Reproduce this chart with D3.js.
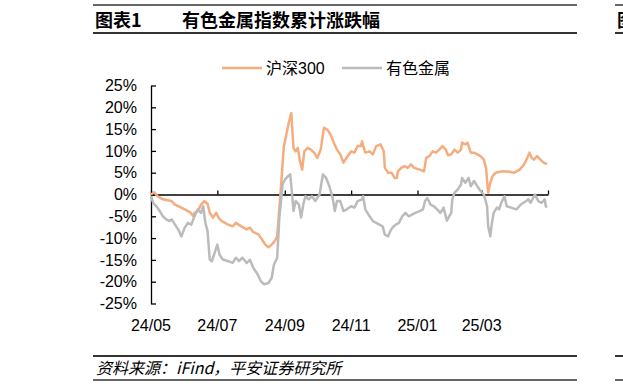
<!DOCTYPE html>
<html>
<head>
<meta charset="utf-8">
<script src="https://cdn.jsdelivr.net/npm/d3@7"></script>
<style>
  body { margin: 0; background: #fff; }
</style>
</head>
<body>
<div class="chart"></div>
<script>
// Chart data (cumulative change in %)
const seriesNames = ["沪深300", "有色金属"];

const hs300Dates = ["24-05-01","24-05-04","24-05-07","24-05-12","24-05-16","24-05-20","24-05-23","24-05-27","24-06-01","24-06-06",
  "24-06-09","24-06-10","24-06-13","24-06-16","24-06-19","24-06-22","24-06-24","24-06-27","24-06-30","24-07-02",
  "24-07-05","24-07-11","24-07-15","24-07-18","24-07-23","24-07-28","24-07-31","24-08-03","24-08-08","24-08-11",
  "24-08-14","24-08-17","24-08-20","24-08-23","24-08-25","24-08-28","24-08-31","24-09-03","24-09-05","24-09-07",
  "24-09-09","24-09-11","24-09-13","24-09-15","24-09-17","24-09-19","24-09-22","24-09-25","24-09-28","24-10-01",
  "24-10-04","24-10-07","24-10-10","24-10-13","24-10-16","24-10-19","24-10-22","24-10-25","24-10-28","24-11-01",
  "24-11-04","24-11-07","24-11-10","24-11-11","24-11-14","24-11-18","24-11-21","24-11-24","24-11-28","24-12-01",
  "24-12-02","24-12-05","24-12-08","24-12-11","24-12-13","24-12-14","24-12-17","24-12-20","24-12-23","24-12-26",
  "24-12-29","25-01-03","25-01-07","25-01-09","25-01-12","25-01-15","25-01-18","25-01-21","25-01-24","25-01-27",
  "25-01-29","25-02-01","25-02-04","25-02-07","25-02-10","25-02-11","25-02-14","25-02-16","25-02-19","25-02-22",
  "25-02-25","25-02-28","25-03-03","25-03-05","25-03-07","25-03-09","25-03-11","25-03-14","25-03-19","25-03-25",
  "25-03-31","25-04-05","25-04-09","25-04-12","25-04-14","25-04-16","25-04-18","25-04-21","25-04-24","25-04-27",
  "25-04-30"];
const hs300Values = [0,0.5,-0.4,-1.1,-1.3,-1.5,-2.3,-2.8,-3.4,-4.1,
  -5.0,-4.2,-3.8,-2.3,-1.5,-2.1,-4.2,-5.3,-4.2,-5.3,
  -6.1,-6.9,-7.3,-6.5,-7.3,-8.0,-7.6,-8.6,-9.2,-10.3,
  -11.5,-12.1,-11.5,-10.6,-9.6,0,10.7,14.5,16.8,18.7,
  10.7,9.9,10.7,7.6,5.7,9.9,10.7,10.3,9.6,8.4,
  10.3,15.3,14.9,13.8,11.9,10.3,9.2,7.3,8.5,9.9,
  9.6,11.1,11.1,12.2,9.6,9.9,9.2,11.1,11.5,9.9,
  6.1,5.0,5.0,3.8,3.8,5.3,6.1,6.5,6.1,6.9,
  6.1,5.7,5.3,8.4,8.8,9.9,9.6,10.3,11.1,10.3,
  9.0,9.2,10.3,9.6,10.3,11.9,11.5,11.9,9.6,9.6,
  9.2,8.8,8.0,6.1,0.4,2.7,4.2,5.0,5.3,5.3,
  5.0,5.7,6.9,8.4,9.6,8.4,8.0,8.8,8.0,7.3,
  7.0];

const metalDates = ["24-05-01","24-05-03","24-05-06","24-05-09","24-05-12","24-05-15","24-05-18","24-05-20","24-05-23","24-05-26",
  "24-05-29","24-06-01","24-06-04","24-06-07","24-06-10","24-06-13","24-06-16","24-06-18","24-06-20","24-06-22",
  "24-06-24","24-06-26","24-06-28","24-07-01","24-07-03","24-07-06","24-07-11","24-07-15","24-07-18","24-07-21",
  "24-07-24","24-07-28","24-07-31","24-08-03","24-08-07","24-08-10","24-08-13","24-08-17","24-08-20","24-08-22",
  "24-08-25","24-08-27","24-08-30","24-09-01","24-09-04","24-09-06","24-09-08","24-09-09","24-09-11","24-09-14",
  "24-09-16","24-09-18","24-09-20","24-09-23","24-09-26","24-09-29","24-10-03","24-10-06","24-10-09","24-10-12",
  "24-10-15","24-10-17","24-10-19","24-10-22","24-10-25","24-10-28","24-11-01","24-11-04","24-11-07","24-11-11",
  "24-11-12","24-11-14","24-11-18","24-11-21","24-11-24","24-11-27","24-11-30","24-12-02","24-12-05","24-12-07",
  "24-12-09","24-12-12","24-12-15","24-12-18","24-12-21","24-12-24","24-12-27","24-12-30","25-01-03","25-01-06",
  "25-01-08","25-01-10","25-01-13","25-01-16","25-01-19","25-01-22","25-01-25","25-01-28","25-02-01","25-02-02",
  "25-02-04","25-02-07","25-02-10","25-02-11","25-02-14","25-02-17","25-02-19","25-02-22","25-02-25","25-02-28",
  "25-03-03","25-03-06","25-03-07","25-03-09","25-03-10","25-03-12","25-03-15","25-03-17","25-03-19","25-03-22",
  "25-03-24","25-03-28","25-04-02","25-04-06","25-04-11","25-04-13","25-04-15","25-04-19","25-04-22","25-04-25",
  "25-04-28","25-04-29","25-04-30"];
const metalValues = [-0.4,-1.9,-2.7,-3.8,-5.0,-5.7,-6.1,-5.7,-6.9,-8.0,
  -9.6,-7.6,-6.5,-6.9,-5.0,-3.4,-4.2,-2.7,-6.5,-8.4,
  -14.9,-15.3,-13.8,-11.5,-13.8,-14.9,-15.3,-15.7,-14.5,-15.3,
  -14.5,-15.7,-15.0,-16.8,-18.3,-19.9,-20.6,-20.3,-19.1,-16.1,
  -14.5,-5.3,2.3,3.4,4.2,4.6,-0.8,-3.8,-1.5,-2.3,
  -5.3,-2.3,-0.4,-1.1,-0.4,-1.5,0,4.6,3.8,1.9,
  -0.8,-3.8,-1.5,-1.5,-3.8,-3.4,-2.7,-3.0,-1.5,-1.1,
  -0.4,-3.4,-5.0,-6.1,-6.5,-6.9,-7.3,-9.2,-9.6,-8.4,
  -7.6,-6.9,-6.5,-5.0,-4.2,-5.0,-4.6,-4.2,-3.8,-3.4,
  -1.5,-0.8,-2.3,-2.7,-3.4,-4.2,-3.0,-6.0,-4.2,-1.1,
  0.4,1.1,2.3,3.8,2.7,3.8,1.9,3.1,1.9,0.8,
  0,-2.7,-7.3,-9.6,-7.3,-4.2,-3.0,-3.4,-1.9,-0.4,
  -2.7,-3.0,-3.4,-2.3,-1.5,-1.1,-1.9,0,-1.5,-1.9,
  -1.1,-2.7,-3.0];

const yTicks = [25, 20, 15, 10, 5, 0, -5, -10, -15, -20, -25];
const xTickDates = ["24-05-01","24-07-01","24-09-01","24-11-01","25-01-01","25-03-01","25-05-01"];
const xTickLabels = ["24/05","24/07","24/09","24/11","25/01","25/03",""];

const colors = ["#F5AC7E", "#BBBBBB"];
const latinFont = '"Liberation Sans", Arial, "Noto Sans CJK SC", sans-serif';
const cjkFont = '"Noto Sans CJK SC", sans-serif';

const width = 623, height = 389;

const svg = d3.select('.chart')
              .append('svg')
              .attr('width', width)
              .attr('height', height)
              .style('display', 'block');

const parseDate = d3.timeParse("%y-%m-%d");

const x = d3.scaleTime()
            .domain([parseDate("24-05-01"), parseDate("25-05-01")])
            .range([151, 548]);
const y = d3.scaleLinear()
            .domain([-25, 25])
            .range([303.5, 85.5]);

// Title and footer rules
function rule(yPos, w) {
  svg.append("line")
     .attr("x1", 93).attr("x2", 577)
     .attr("y1", yPos).attr("y2", yPos)
     .attr("stroke", "#333").attr("stroke-width", w);
  // neighbouring panel, cut off at the right edge
  svg.append("line")
     .attr("x1", 615).attr("x2", 623)
     .attr("y1", yPos).attr("y2", yPos)
     .attr("stroke", "#333").attr("stroke-width", w);
}
rule(5, 1.5);
rule(33, 2);
rule(356, 2);
rule(380, 1.5);

svg.append("text")
   .attr("x", 95).attr("y", 27)
   .style("font-family", cjkFont)
   .style("font-weight", "bold")
   .style("font-size", "18px")
   .text("图表1");
svg.append("text")
   .attr("x", 182).attr("y", 27)
   .style("font-family", cjkFont)
   .style("font-weight", "bold")
   .style("font-size", "18px")
   .text("有色金属指数累计涨跌幅");
// first glyph of the next panel's title, cut by the page edge as in the source
svg.append("text")
   .attr("x", 617).attr("y", 27)
   .style("font-family", cjkFont)
   .style("font-weight", "bold")
   .style("font-size", "18px")
   .text("图");

svg.append("text")
   .attr("x", 96).attr("y", 374)
   .style("font-family", cjkFont)
   .style("font-style", "italic")
   .style("font-size", "16px")
   .text("资料来源：iFind，平安证券研究所");

// Legend
const legend = svg.append("g");
const legendX = [222, 342];
seriesNames.forEach(function(name, i) {
  legend.append("line")
        .attr("x1", legendX[i]).attr("x2", legendX[i] + 40)
        .attr("y1", 68).attr("y2", 68)
        .attr("stroke", colors[i])
        .attr("stroke-width", 2.5);
  legend.append("text")
        .attr("x", legendX[i] + 44).attr("y", 74)
        .style("font-family", latinFont)
        .style("font-size", "16px")
        .text(name);
});

// Y axis, ticks point inward
const yAxis = svg.append("g")
   .attr("transform", "translate(151,0)")
   .call(d3.axisLeft(y)
           .tickValues(yTicks)
           .tickSizeInner(-5)
           .tickSizeOuter(0)
           .tickPadding(14)
           .tickFormat(function(d) { return d + "%"; }));
yAxis.select(".domain").attr("stroke", "#000").attr("stroke-width", 1.3);
yAxis.selectAll(".tick line").attr("stroke", "#000").attr("stroke-width", 1.3);
yAxis.selectAll("text")
     .style("font-family", latinFont)
     .style("font-size", "16px")
     .attr("fill", "#000");

// X axis on the zero line, labels at the bottom
const xAxis = svg.append("g")
   .attr("transform", "translate(0," + y(0) + ")")
   .call(d3.axisBottom(x)
           .tickValues(xTickDates.map(parseDate))
           .tickSizeInner(-4)
           .tickSizeOuter(0)
           .tickFormat(""));
xAxis.select(".domain").attr("stroke", "#000").attr("stroke-width", 1.5);
xAxis.selectAll(".tick line").attr("stroke", "#000").attr("stroke-width", 1.3);

svg.append("g")
   .selectAll("text")
   .data(xTickDates)
   .enter()
   .append("text")
   .attr("x", function(d) { return x(parseDate(d)); })
   .attr("y", 331)
   .attr("text-anchor", "middle")
   .style("font-family", latinFont)
   .style("font-size", "16px")
   .text(function(d, i) { return xTickLabels[i]; });

// Lines
const line = d3.line()
               .x(function(d) { return x(d.date); })
               .y(function(d) { return y(d.value); });

const series = [
  hs300Dates.map(function(d, i) { return {date: parseDate(d), value: hs300Values[i]}; }),
  metalDates.map(function(d, i) { return {date: parseDate(d), value: metalValues[i]}; })
];

series.forEach(function(s, i) {
  svg.append("path")
     .datum(s)
     .attr("d", line)
     .attr("fill", "none")
     .attr("stroke", colors[i])
     .attr("stroke-width", 2.5)
     .attr("stroke-linejoin", "round");
});
</script>
</body>
</html>
